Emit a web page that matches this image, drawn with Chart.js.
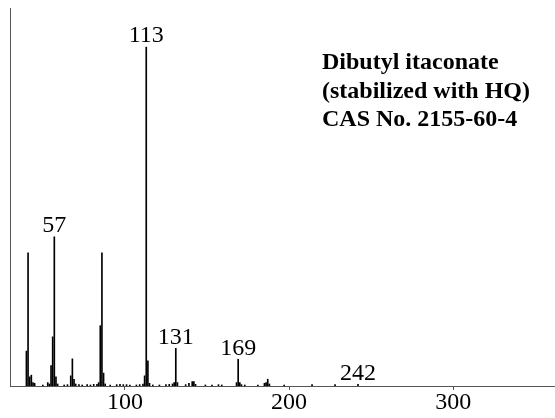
<!DOCTYPE html>
<html>
<head>
<meta charset="utf-8">
<script src="https://cdn.jsdelivr.net/npm/chart.js@4.4.1/dist/chart.umd.min.js"></script>
<style>
  html, body { margin: 0; padding: 0; background: #fff; }
  #wrap { width: 555px; height: 418px; }
</style>
</head>
<body>
<div id="wrap"><canvas id="msChart"></canvas></div>
<script>
// m/z values and relative intensities (%)
const massValues = [40, 41, 42, 43, 44, 45, 50, 53, 54, 55, 56, 57, 58, 59, 63, 65, 67, 68, 69, 70,
  72, 74, 77, 79, 81, 83, 84, 85, 86, 87, 88, 91, 95, 97, 99, 101, 103, 107, 109, 111,
  112, 113, 114, 115, 117, 121, 125, 127, 129, 130, 131, 132, 137, 139, 141, 142, 143, 149,
  153, 157, 159, 168, 169, 170, 171, 173, 181, 185, 186, 187, 188, 197, 214, 228, 242];
const intensities = [10.3, 39.3, 2.7, 3.2, 1.0, 0.8, 0.3, 1.0, 0.6, 6.0, 14.5, 44.0, 2.7, 0.6, 0.3, 0.4, 3.0, 8.0, 2.0, 0.6,
  0.4, 0.3, 0.4, 0.3, 0.5, 0.5, 1.0, 17.8, 39.3, 3.8, 0.6, 0.3, 0.4, 0.5, 0.4, 0.4, 0.3, 0.3, 0.4, 0.6,
  3.0, 100, 7.4, 0.8, 0.3, 0.3, 0.4, 0.5, 0.6, 1.0, 11.1, 1.0, 0.4, 0.8, 1.3, 1.3, 0.5, 0.3,
  0.3, 0.4, 0.3, 1.0, 7.9, 1.0, 0.4, 0.3, 0.3, 0.8, 1.0, 2.0, 0.6, 0.3, 0.4, 0.4, 0.5];

const peakLabels = [57, 113, 131, 169, 242];
const xTicks = [100, 200, 300];
const titleLines = ['Dibutyl itaconate', '(stabilized with HQ)', 'CAS No. 2155-60-4'];

const points = massValues.map((m, i) => ({ x: m, y: intensities[i] }));

const serif = '"Liberation Serif", "DejaVu Serif", serif';

const peakLabelPlugin = {
  id: 'peakLabels',
  afterDatasetsDraw(chart) {
    const ctx = chart.ctx;
    const xs = chart.scales.x, ys = chart.scales.y;
    ctx.save();
    ctx.fillStyle = '#000';
    ctx.font = '24px ' + serif;
    ctx.textAlign = 'center';
    ctx.textBaseline = 'bottom';
    peakLabels.forEach(m => {
      const idx = massValues.indexOf(m);
      const v = idx >= 0 ? intensities[idx] : 0;
      ctx.fillText(String(m), xs.getPixelForValue(m), ys.getPixelForValue(v) + 1);
    });
    // compound name block
    ctx.font = 'bold 24px ' + serif;
    ctx.textAlign = 'left';
    ctx.textBaseline = 'middle';
    titleLines.forEach((t, i) => {
      ctx.fillText(t, 322, 63 + i * 28.5);
    });
    ctx.restore();
  }
};

new Chart(document.getElementById('msChart').getContext('2d'), {
  type: 'bar',
  data: {
    datasets: [{
      data: points,
      backgroundColor: '#000',
      barThickness: 1,
      grouped: false
    }]
  },
  options: {
    responsive: true,
    maintainAspectRatio: false,
    animation: false,
    layout: { padding: { left: 10, top: 8, right: 0, bottom: 0 } },
    plugins: {
      legend: { display: false },
      tooltip: { enabled: false }
    },
    scales: {
      x: {
        type: 'linear',
        min: 30,
        max: 362,
        offset: false,
        afterBuildTicks: (scale) => { scale.ticks = xTicks.map(v => ({ value: v })); },
        afterFit: (scale) => { scale.height = 32; },
        grid: { display: true, offset: false, drawOnChartArea: false, tickLength: 4, color: '#555' },
        border: { display: true, color: '#555', width: 1 },
        ticks: {
          color: '#000',
          padding: -2,
          maxRotation: 0,
          font: { family: serif, size: 24 }
        }
      },
      y: {
        min: 0,
        max: 111.5,
        afterFit: (scale) => { scale.width = 0; },
        grid: { display: false, drawTicks: false },
        border: { display: true, color: '#555', width: 1 },
        ticks: { display: false }
      }
    }
  },
  plugins: [peakLabelPlugin]
});
</script>
</body>
</html>
